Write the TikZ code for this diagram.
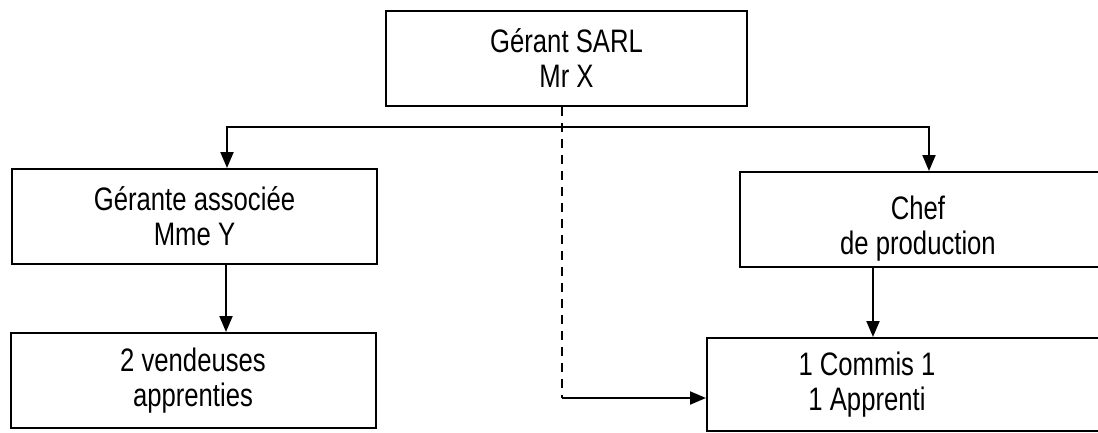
\documentclass[tikz,border=0pt]{standalone}
\usepackage{fontspec}
\setmainfont{Liberation Sans}[FakeStretch=0.79]
\usetikzlibrary{arrows.meta,calc}
\tikzset{
  box/.style={draw=black, line width=2pt, rectangle, inner sep=0pt, align=center,
    font=\fontsize{32.5}{35}\selectfont},
  txt/.style={inner sep=0pt, align=center, font=\fontsize{32.5}{35}\selectfont},
  arr/.style={line width=2pt, -{Triangle[length=16pt,width=13pt]}},
  dashedline/.style={line width=2pt, dash pattern=on 9pt off 7pt}
}
\begin{document}
\begin{tikzpicture}[x=1pt,y=-1pt]
\useasboundingbox (0,0) rectangle (1098,432);
\clip (0,0) rectangle (1098,432);
% boxes
\node[box, minimum width=361pt, minimum height=95pt] (top) at (566.5,58.5) {Gérant SARL\\Mr X};
\node[box, minimum width=365pt, minimum height=95pt] (lt) at (194.5,216.5) {Gérante associée\\Mme Y};
\node[box, minimum width=365pt, minimum height=95pt] (lb) at (193,380.5) {2 vendeuses\\apprenties};
\node[box, minimum width=380pt, minimum height=95pt] (rt) at (930,219.5) {};
\node[txt] (rtt) at (918,229) {Chef\\de production};
\node[box, minimum width=413pt, minimum height=93pt] (rb) at (913.5,384.5) {};
\node[txt] (rbt) at (867,385) {1 Commis 1\\1 Apprenti};
% connectors
\coordinate (bar) at (562,127);
\draw[arr] (bar) -| ([xshift=32.5pt]lt.north);
\draw[arr] (bar) -| ([xshift=-1pt]rt.north);
\draw[arr] ([xshift=31.5pt]lt.south) -- ([xshift=33pt]lb.north);
\draw[arr] ([xshift=-57pt]rt.south) -- ([xshift=-40.5pt]rb.north |- rb.north);
\coordinate (corner) at (562,398);
\draw[dashedline] ([xshift=-4.5pt]top.south) -- (corner);
\draw[arr] (corner) -- (rb.west |- corner);
\end{tikzpicture}
\end{document}
